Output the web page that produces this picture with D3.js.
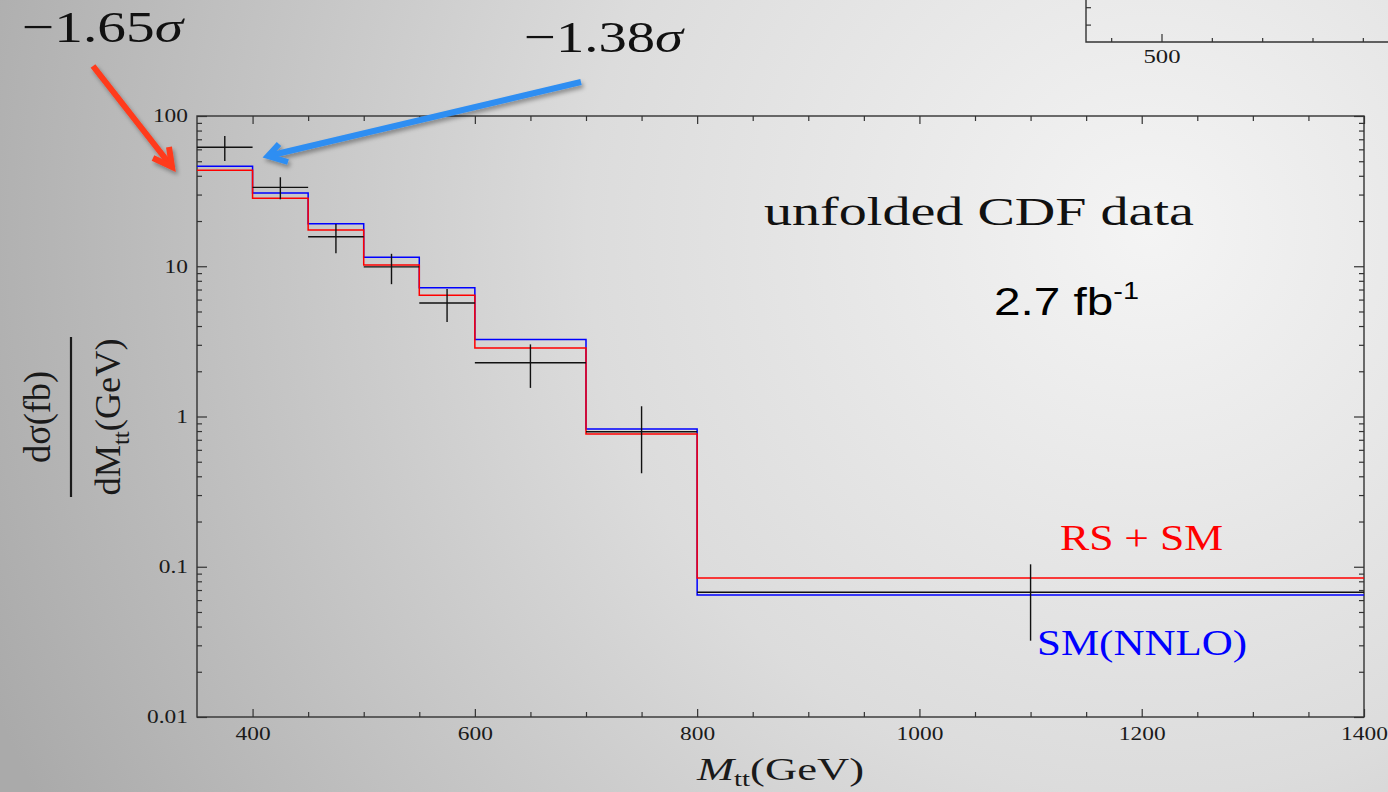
<!DOCTYPE html>
<html>
<head>
<meta charset="utf-8">
<script src="https://cdn.jsdelivr.net/npm/d3@7"></script>
<style>
html, body { margin: 0; padding: 0; overflow: hidden; }
svg { display: block; }
</style>
</head>
<body>
<div id="chart"></div>
<script>
var WIN_WIDTH = 1388;
var WIN_HEIGHT = 792;

// M_tt bins (GeV)
var binEdges = [350, 400, 450, 500, 550, 600, 700, 800, 1400];
// dsigma/dM (fb/GeV) per bin
var smNNLO = [46.3, 30.7, 19.2, 11.5, 7.2, 3.25, 0.826, 0.0649];
var rsSM   = [43.5, 28.3, 17.4, 10.2, 6.4, 2.86, 0.765, 0.0841];
// unfolded CDF data
var dataX  = [375, 425, 475, 525, 575, 650, 750, 1100];
var dataY  = [61.9, 33.5, 15.7, 9.9, 5.7, 2.28, 0.792, 0.0676];
var dataHi = [73.6, 39.1, 19.1, 12.1, 7.06, 3.02, 1.17, 0.1038];
var dataLo = [50.2, 27.9, 12.2, 7.6, 4.26, 1.55, 0.419, 0.0322];

var xMajorTicks = [400, 600, 800, 1000, 1200, 1400];
var yMajorTicks = [0.01, 0.1, 1, 10, 100];
var yTickLabels = ["0.01", "0.1", "1", "10", "100"];

var svg = d3.select("#chart")
			.append("svg")
			.attr("width", WIN_WIDTH)
			.attr("height", WIN_HEIGHT);

var defs = svg.append("defs");

var bg = defs.append("radialGradient")
			 .attr("id", "bg")
			 .attr("gradientUnits", "userSpaceOnUse")
			 .attr("cx", 1150).attr("cy", 230).attr("r", 1250);
bg.append("stop").attr("offset", 0).attr("stop-color", "#f4f4f4");
bg.append("stop").attr("offset", 0.45).attr("stop-color", "#dcdcdc");
bg.append("stop").attr("offset", 1).attr("stop-color", "#aaaaaa");

var shadow = defs.append("filter").attr("id", "shadow")
				 .attr("x", "-20%").attr("y", "-20%").attr("width", "140%").attr("height", "140%");
shadow.append("feDropShadow")
	  .attr("dx", 2).attr("dy", 3).attr("stdDeviation", 2)
	  .attr("flood-color", "#000").attr("flood-opacity", 0.35);

svg.append("rect")
   .attr("width", WIN_WIDTH).attr("height", WIN_HEIGHT)
   .attr("fill", "url(#bg)");

// stretch text horizontally like the (widened) slide
function stretch(sel, factor) {
	sel.each(function() {
		var w = this.getComputedTextLength();
		d3.select(this).attr("textLength", w * factor).attr("lengthAdjust", "spacingAndGlyphs");
	});
}
function fitWidth(sel, w) {
	sel.attr("textLength", w).attr("lengthAdjust", "spacingAndGlyphs");
}

var AXIS_COLOR = "#333";
var SERIF = "'Liberation Serif', 'DejaVu Serif', serif";

function styleAxis(g) {
	g.select(".domain").remove();
	g.selectAll(".tick line").attr("stroke", AXIS_COLOR).attr("stroke-width", 1.2);
	g.selectAll(".tick text")
	 .attr("font-family", SERIF)
	 .attr("font-size", "18px")
	 .attr("fill", "#1a1a1a");
}

// ---- partial inset chart, top right ----
var insetX = d3.scaleLinear().domain([350, 950]).range([1086, 1388]);
var insetY = d3.scaleLinear().domain([0, 2.414]).range([42, 0]);
var inset = svg.append("g").attr("id", "inset");

inset.append("g")
	 .attr("transform", "translate(0,42)")
	 .call(d3.axisBottom(insetX).tickValues([400, 600, 700, 800, 900]).tickSize(-4).tickFormat(""))
	 .call(styleAxis);
inset.append("g")
	 .attr("transform", "translate(0,42)")
	 .call(d3.axisBottom(insetX).tickValues([500]).tickSize(-8).tickPadding(8))
	 .call(styleAxis)
	 .selectAll("text").attr("font-size", "19px");
inset.append("g")
	 .attr("transform", "translate(1086,0)")
	 .call(d3.axisLeft(insetY).tickValues([1, 2]).tickSize(-5).tickFormat(""))
	 .call(styleAxis);
inset.append("path")
	 .attr("d", "M1086,0V42H1388")
	 .attr("fill", "none").attr("stroke", AXIS_COLOR).attr("stroke-width", 1.4);
stretch(inset.selectAll("text"), 1.3);

// ---- main plot ----
var plot = { left: 197, right: 1364, top: 116, bottom: 717 };

var x = d3.scaleLinear().domain([350, 1400]).range([plot.left, plot.right]);
var y = d3.scaleLog().domain([0.01, 100]).range([plot.bottom, plot.top]);

var xMinorTicks = d3.range(400, 1401, 50).filter(function(v) { return xMajorTicks.indexOf(v) < 0; });
var yMinorTicks = [];
[0.01, 0.1, 1, 10].forEach(function(dec) {
	for (var m = 2; m <= 9; m++) yMinorTicks.push(dec * m);
});

var main = svg.append("g").attr("id", "main");

// bottom
main.append("g").attr("transform", "translate(0," + plot.bottom + ")")
	.call(d3.axisBottom(x).tickValues(xMinorTicks).tickSize(-5).tickFormat(""))
	.call(styleAxis);
main.append("g").attr("transform", "translate(0," + plot.bottom + ")")
	.attr("class", "xlabels")
	.call(d3.axisBottom(x).tickValues(xMajorTicks).tickSize(-8).tickPadding(10).tickFormat(d3.format("d")))
	.call(styleAxis);
// top
main.append("g").attr("transform", "translate(0," + plot.top + ")")
	.call(d3.axisTop(x).tickValues(xMinorTicks).tickSize(-5).tickFormat(""))
	.call(styleAxis);
main.append("g").attr("transform", "translate(0," + plot.top + ")")
	.call(d3.axisTop(x).tickValues(xMajorTicks).tickSize(-8).tickFormat(""))
	.call(styleAxis);
// left
main.append("g").attr("transform", "translate(" + plot.left + ",0)")
	.call(d3.axisLeft(y).tickValues(yMinorTicks).tickSize(-5).tickFormat(""))
	.call(styleAxis);
main.append("g").attr("transform", "translate(" + plot.left + ",0)")
	.attr("class", "ylabels")
	.call(d3.axisLeft(y).tickValues(yMajorTicks).tickSize(-10).tickPadding(9)
			.tickFormat(function(d, i) { return yTickLabels[i]; }))
	.call(styleAxis);
// right
main.append("g").attr("transform", "translate(" + plot.right + ",0)")
	.call(d3.axisRight(y).tickValues(yMinorTicks).tickSize(-5).tickFormat(""))
	.call(styleAxis);
main.append("g").attr("transform", "translate(" + plot.right + ",0)")
	.call(d3.axisRight(y).tickValues(yMajorTicks).tickSize(-10).tickFormat(""))
	.call(styleAxis);

main.append("rect")
	.attr("x", plot.left).attr("y", plot.top)
	.attr("width", plot.right - plot.left).attr("height", plot.bottom - plot.top)
	.attr("fill", "none").attr("stroke", AXIS_COLOR).attr("stroke-width", 1.4);

stretch(main.selectAll(".xlabels text, .ylabels text"), 1.3);

// step histograms
function stepPoints(vals) {
	return binEdges.map(function(e, i) { return [e, vals[Math.min(i, vals.length - 1)]]; });
}
var step = d3.line()
			 .x(function(d) { return x(d[0]); })
			 .y(function(d) { return y(d[1]); })
			 .curve(d3.curveStepAfter);

main.append("path")
	.attr("d", step(stepPoints(smNNLO)))
	.attr("fill", "none").attr("stroke", "#0000ff").attr("stroke-width", 1.5);
main.append("path")
	.attr("d", step(stepPoints(rsSM)))
	.attr("fill", "none").attr("stroke", "#ff0000").attr("stroke-width", 1.5);

// data crosses
var pts = main.append("g").attr("stroke", "#111").attr("stroke-width", 1.4);
dataX.forEach(function(dx, i) {
	pts.append("line")
	   .attr("x1", x(binEdges[i])).attr("x2", x(binEdges[i + 1]))
	   .attr("y1", y(dataY[i])).attr("y2", y(dataY[i]));
	pts.append("line")
	   .attr("x1", x(dx)).attr("x2", x(dx))
	   .attr("y1", y(dataLo[i])).attr("y2", y(dataHi[i]));
});

// ---- axis titles ----
var xTitle = svg.append("text")
				.attr("x", 697).attr("y", 780)
				.attr("font-family", SERIF).attr("font-size", "31px").attr("fill", "#1a1a1a");
xTitle.append("tspan").attr("font-style", "italic").text("M");
xTitle.append("tspan").attr("font-size", "20px").attr("dy", 6).text("tt");
xTitle.append("tspan").attr("dy", -6).text("(GeV)");
fitWidth(xTitle, 167);

var yTitle = svg.append("g").attr("transform", "translate(71,417) scale(1.2,1) rotate(-90)")
				.attr("font-family", SERIF).attr("fill", "#1a1a1a");
var num = yTitle.append("text")
				.attr("x", 0).attr("y", -17.5)
				.attr("text-anchor", "middle").attr("font-size", "32px")
				.text("dσ(fb)");
fitWidth(num, 92);
var den = yTitle.append("text")
				.attr("x", 0).attr("y", 41)
				.attr("text-anchor", "middle").attr("font-size", "29px");
den.append("tspan").text("dM");
den.append("tspan").attr("font-size", "20px").attr("dy", 7).text("tt");
den.append("tspan").attr("dy", -7).text("(GeV)");
fitWidth(den, 157);
svg.append("line")
   .attr("x1", 71).attr("x2", 71).attr("y1", 337).attr("y2", 497)
   .attr("stroke", "#1a1a1a").attr("stroke-width", 2.2);

// ---- labels in plot ----
var t1 = svg.append("text")
			.attr("x", 764).attr("y", 225)
			.attr("font-family", SERIF).attr("font-size", "39px").attr("fill", "#111")
			.text("unfolded CDF data");
fitWidth(t1, 430);

var t2 = svg.append("text")
			.attr("x", 994).attr("y", 315)
			.attr("font-family", "'Liberation Sans', Arial, sans-serif").attr("font-size", "38px").attr("fill", "#000");
t2.append("tspan").text("2.7 fb");
t2.append("tspan").attr("font-size", "23px").attr("dy", -16).text("-1");
fitWidth(t2, 145);

var lRS = svg.append("text")
			 .attr("x", 1060).attr("y", 550)
			 .attr("font-family", SERIF).attr("font-size", "35px").attr("fill", "#ff0000")
			 .text("RS + SM");
fitWidth(lRS, 163);
var lSM = svg.append("text")
			 .attr("x", 1037).attr("y", 655)
			 .attr("font-family", SERIF).attr("font-size", "35px").attr("fill", "#0000ff")
			 .text("SM(NNLO)");
fitWidth(lSM, 210);

// ---- sigma annotations ----
var s1 = svg.append("text")
			.attr("x", 22).attr("y", 42)
			.attr("font-family", SERIF).attr("font-size", "45px").attr("fill", "#111");
s1.append("tspan").text("\u22121.65");
s1.append("tspan").attr("font-style", "italic").text("σ");
fitWidth(s1, 161);

var s2 = svg.append("text")
			.attr("x", 524).attr("y", 52)
			.attr("font-family", SERIF).attr("font-size", "45px").attr("fill", "#111");
s2.append("tspan").text("\u22121.38");
s2.append("tspan").attr("font-style", "italic").text("σ");
fitWidth(s2, 159);

function arrow(color, tail, tip, arm1, arm2) {
	var g = svg.append("g").attr("filter", "url(#shadow)")
			   .attr("stroke", color).attr("stroke-width", 6).attr("fill", "none");
	g.append("line")
	 .attr("x1", tail[0]).attr("y1", tail[1]).attr("x2", tip[0]).attr("y2", tip[1]);
	g.append("path")
	 .attr("d", "M" + arm1 + "L" + tip + "L" + arm2)
	 .attr("stroke-linejoin", "miter");
}
arrow("#ff3a1c", [93, 66], [172, 167], [153, 158], [169, 147]);
arrow("#2f8ef2", [581, 82], [268, 156], [288, 162], [279, 144]);
</script>
</body>
</html>
